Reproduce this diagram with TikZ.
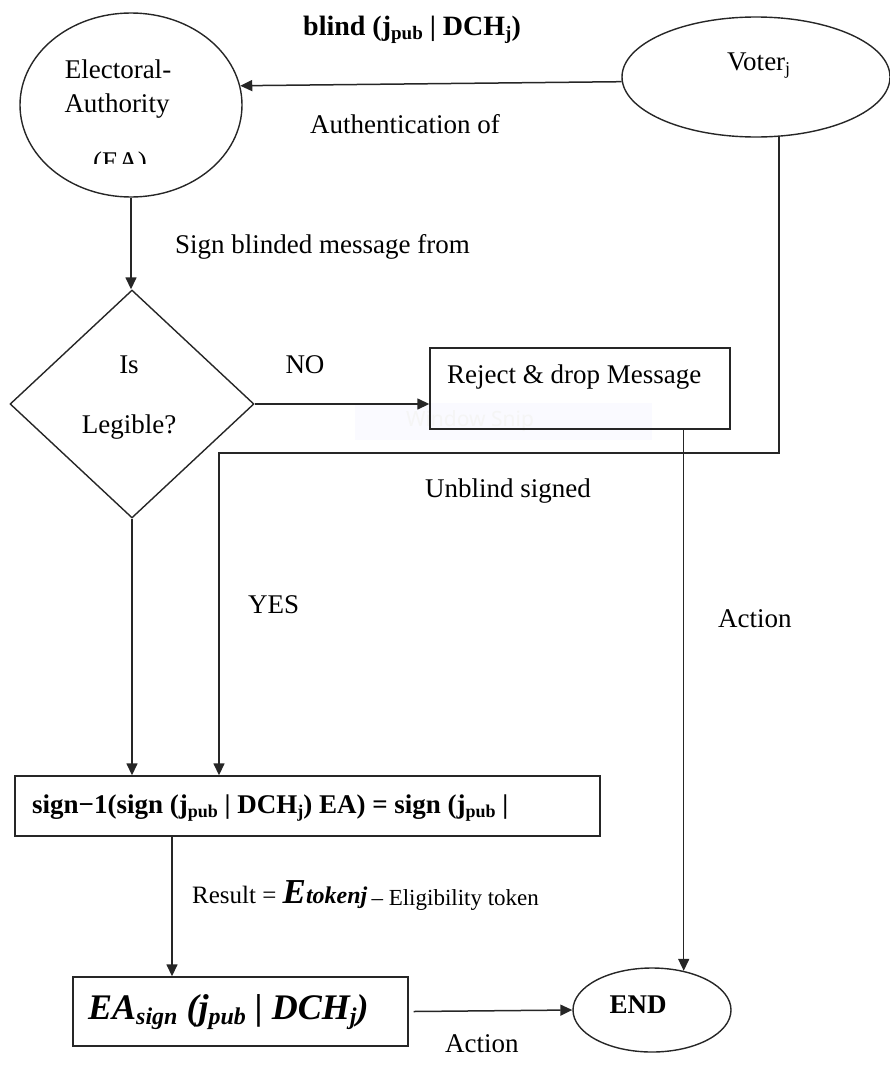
\documentclass[tikz,border=0pt]{standalone}
\usepackage{fontspec}
\setmainfont{Liberation Serif}
\newfontfamily\snipfont{Noto Sans}
\usetikzlibrary{shapes.geometric,arrows.meta,calc}

% font size helper and lowered sub-text: shift, size, text
\newcommand{\fs}[1]{\fontsize{#1}{#1}\selectfont}
\newcommand{\lowtxt}[3]{\raisebox{#1}{\fs{#2}#3}}

\tikzset{
  flow/.style={draw=black!85, line width=1.5pt, -{Triangle[length=12pt,width=11pt]}},
  outline/.style={draw=black!85, line width=1.4pt, inner sep=0pt},
  lbl/.style={anchor=base west, inner sep=0pt, font=\fs{27}},
  ctr/.style={anchor=base, inner sep=0pt, font=\fs{27}},
}

\begin{document}
\begin{tikzpicture}[x=1pt, y=-1pt]
\useasboundingbox (0,0) rectangle (890,1068);

% faint snipping overlay behind the reject box
\node[fill=blue!2!white, minimum width=297pt, minimum height=37pt, inner sep=0pt] (snip) at (503.5,421.5) {};
\node[inner sep=0pt, font=\snipfont\fs{21}, text=black!4] (sniptxt) at (470,421) {Window Snip};

% shapes
\node[outline, ellipse, minimum width=222pt, minimum height=184pt] (ea) at (131,105) {};
\node[outline, ellipse, minimum width=268pt, minimum height=120pt] (voter) at (756,77) {};
\node[outline, diamond, minimum width=244pt, minimum height=228pt] (dia) at (132,404) {};
\node[outline, rectangle, minimum width=300pt, minimum height=81pt] (rej) at (580,388.5) {};
\node[outline, rectangle, minimum width=585pt, minimum height=60pt] (sign) at (307.5,806) {};
\node[outline, rectangle, minimum width=335pt, minimum height=69pt] (bbox) at (240.5,1011.5) {};
\node[outline, ellipse, minimum width=158pt, minimum height=84pt] (end) at (652,1010) {};

% texts inside shapes
\node[ctr] (eat1) at (118,78) {Electoral-};
\node[ctr] (eat2) at (117,112) {Authority};
\begin{scope}
  \clip (60,140) rectangle (180,163);
  \node[ctr] (eat3) at (120,170) {(EA)};
\end{scope}
\node[lbl] (votert) at (727,70) {Voter\lowtxt{-4pt}{18}{j}};
\node[ctr] (dia1) at (129,373) {Is};
\node[ctr] (dia2) at (129,433) {Legible?};
\node[lbl] (rejt) at (447,383) {Reject \& drop Message};
\node[lbl, font=\fs{27}\bfseries] (signt) at (32,813)
  {sign\char"2212 1(sign (j\lowtxt{-4pt}{18}{pub} | DCH\lowtxt{-4pt}{18}{j}) EA) = sign (j\lowtxt{-4pt}{18}{pub} |};
\node[lbl, font=\fs{36}\bfseries\itshape] (bboxt) at (88,1019)
  {EA\lowtxt{-5pt}{24}{sign} (j\lowtxt{-5pt}{24}{pub} | DCH\lowtxt{-5pt}{24}{j})};
\node[ctr, font=\fs{27}\bfseries] (endt) at (638,1013) {END};

% connector labels
\node[lbl, font=\fs{28}\bfseries] (blindl) at (303,35) {blind (j\lowtxt{-4pt}{19}{pub} | DCH\lowtxt{-4pt}{19}{j})};
\node[lbl] (authl) at (310,133) {Authentication of};
\node[lbl] (signl) at (175,253) {Sign blinded message from};
\node[ctr] (nol) at (305,373) {NO};
\node[lbl] (unbl) at (425,497) {Unblind signed};
\node[lbl] (yesl) at (248,613) {YES};
\node[lbl] (act1) at (718,627) {Action};
\node[lbl, font=\fs{25}] (resl) at (192,903)
  {Result = {\fs{35}\bfseries\itshape E}{\fs{24}\bfseries\itshape tokenj}\,{\fs{23}\lowtxt{-2pt}{23}{\textendash{} Eligibility token}}};
\node[lbl] (act2) at (445,1052) {Action};

% connectors
\draw[flow] (voter.182) -- (ea.10);
\draw[flow] (ea.south) -- (ea.south |- dia.north);
\draw[flow] (dia.east) -- (dia.east -| rej.west);
\draw[flow] (dia.south) -- (dia.south |- sign.north);
\coordinate (ubend) at (219,453);
\draw[flow] (voter.-69) |- (ubend) -- (ubend |- sign.north);
\draw[flow] (end.51 |- rej.south) -- (end.51);
\coordinate (s2b) at (172,836);
\draw[flow] (s2b) -- (s2b |- bbox.north);
\draw[flow] ([xshift=5pt]bbox.east) -- (end.west);
\end{tikzpicture}
\end{document}
